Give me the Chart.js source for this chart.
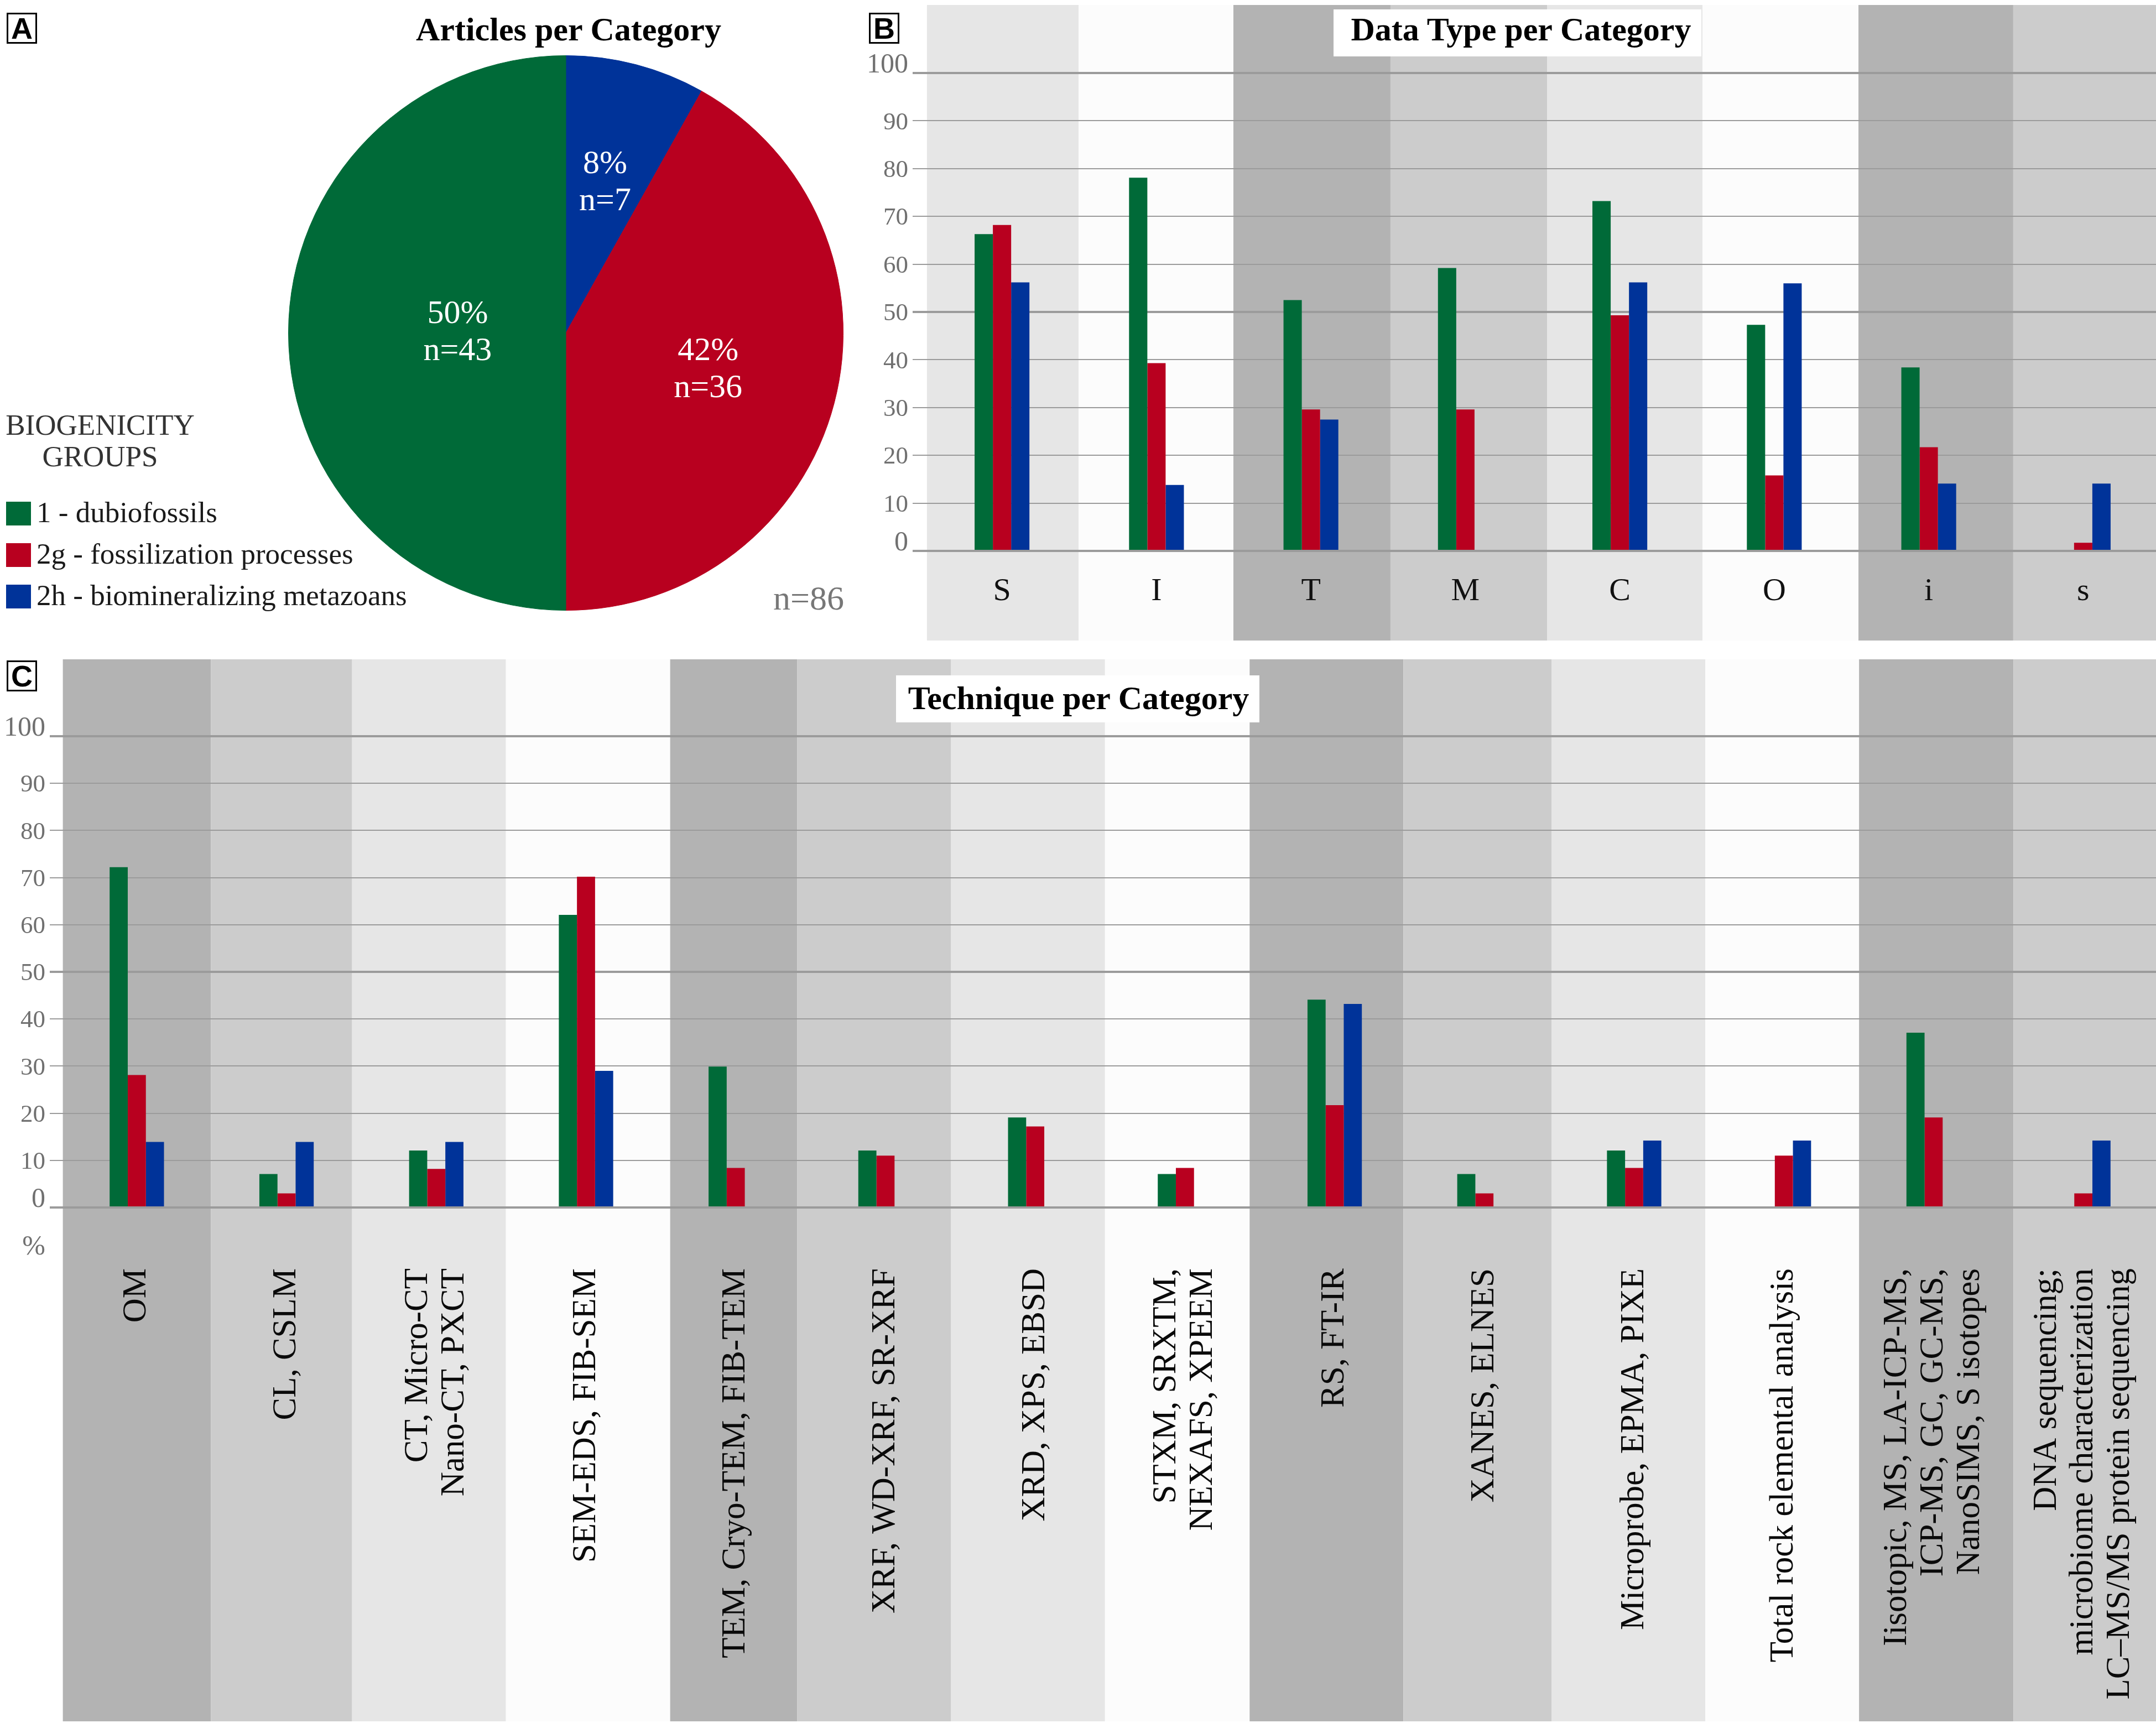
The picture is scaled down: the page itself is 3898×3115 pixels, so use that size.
<!DOCTYPE html>
<html>
<head>
<meta charset="utf-8">
<title>Biogenicity groups – articles, data types and techniques</title>
<script src="https://cdn.jsdelivr.net/npm/chart.js@4.4.1/dist/chart.umd.min.js"></script>
<style>
  html, body { margin:0; padding:0; background:#ffffff; }
  body { width:3898px; height:3115px; overflow:hidden; position:relative; }
  canvas { position:absolute; display:block; }
  .t { position:absolute; white-space:nowrap; }
  .panel { position:absolute; box-sizing:border-box; border:3px solid #000; background:#fff;
           font-family:"Liberation Sans", Arial, sans-serif; font-weight:bold; color:#000;
           display:flex; align-items:center; justify-content:center; line-height:1; }
  .tbox { position:absolute; background:#ffffff; }
  .sw { position:absolute; }
</style>
</head>
<body>
<canvas id="pieA" width="1560" height="1170" style="left:0;top:0;width:1560px;height:1170px"></canvas>
<canvas id="barB" width="2370" height="1170" style="left:1540px;top:0;width:2370px;height:1170px"></canvas>
<canvas id="barC" width="3910" height="1935" style="left:0;top:1180px;width:3910px;height:1935px"></canvas>
<script>
// ---------------- DATA ----------------
const groupNames  = ['1 - dubiofossils', '2g - fossilization processes', '2h - biomineralizing metazoans'];
const groupCounts = [43, 36, 7];
const groupShares = [50, 42, 8];
const totalArticles = 86;

const yTickValues = [0, 10, 20, 30, 40, 50, 60, 70, 80, 90, 100];
const techUnitLabel = '%';

const typeLabels = ['S', 'I', 'T', 'M', 'C', 'O', 'i', 's'];
const typeDubio  = [66.3, 78.1, 52.5, 59.2, 73.2, 47.3, 38.4, 0];
const typeFossil = [68.2, 39.3, 29.6, 29.6, 49.3, 15.8, 21.7, 1.7];
const typeBiomin = [56.2, 13.8, 27.5, 0, 56.2, 56.0, 14.1, 14.1];

const techLabels = [
  ['OM'],
  ['CL, CSLM'],
  ['CT, Micro-CT', 'Nano-CT, PXCT'],
  ['SEM-EDS, FIB-SEM'],
  ['TEM, Cryo-TEM, FIB-TEM'],
  ['XRF, WD-XRF, SR-XRF'],
  ['XRD, XPS, EBSD'],
  ['STXM, SRXTM,', 'NEXAFS, XPEEM'],
  ['RS, FT-IR'],
  ['XANES, ELNES'],
  ['Microprobe, EPMA, PIXE'],
  ['Total rock elemental analysis'],
  ['Iisotopic, MS, LA-ICP-MS,', 'ICP-MS, GC, GC-MS,', 'NanoSIMS, S isotopes'],
  ['DNA sequencing;', 'microbiome characterization', 'LC\u2013MS/MS protein sequencing']
];
const techDubio  = [72.2, 7.1, 12.1, 62.1, 29.9, 12.1, 19.1, 7.1, 44.1, 7.1, 12.1, 0, 37.1, 0];
const techFossil = [28.1, 3.0, 8.2, 70.2, 8.4, 11.0, 17.2, 8.4, 21.7, 3.0, 8.4, 11.0, 19.1, 3.0];
const techBiomin = [13.9, 13.9, 13.9, 29.0, 0, 0, 0, 0, 43.2, 0, 14.2, 14.2, 0, 14.2];

// ---------------- STYLE ----------------
const groupColors = ['#006a38', '#b8001f', '#003399'];
const bandColors  = ['#b3b3b3', '#cccccc', '#e6e6e6', '#fcfcfc'];
const SERIF = '"Liberation Serif", "Times New Roman", serif';
// small decorative nudges of band edges (in category-width units) to follow the hand-made panels
const typeBandNudge = [0.014, -0.004, -0.002, 0.015, 0.029, 0.035, 0.045, 0.047, 0];
const techBandNudge = [0.006, -0.005, -0.062, -0.035, 0.062, -0.089, -0.062, -0.034, -0.068, -0.041, -0.052, -0.025, 0.002, 0.033, 0];

// ---------------- PLUGINS ----------------
const sliceLabelPlugin = {
  id: 'sliceLabels',
  afterDatasetsDraw(chart, args, o) {
    const ctx = chart.ctx;
    const arcs = chart.getDatasetMeta(0).data;
    ctx.save();
    ctx.fillStyle = o.color;
    ctx.font = o.size + 'px ' + SERIF;
    ctx.textAlign = 'center';
    ctx.textBaseline = 'middle';
    arcs.forEach((arc, j) => {
      const p = arc.getProps(['x', 'y', 'startAngle', 'endAngle', 'outerRadius'], true);
      const mid = (p.startAngle + p.endAngle) / 2;
      const r = p.outerRadius * o.radii[j];
      const cx = p.x + r * Math.cos(mid);
      const cy = p.y + r * Math.sin(mid);
      const lines = o.lines[j];
      lines.forEach((ln, k) => {
        ctx.fillText(ln, cx, cy + (k - (lines.length - 1) / 2) * o.gap);
      });
    });
    ctx.restore();
  }
};

const bandPlugin = {
  id: 'bands',
  beforeDraw(chart, args, o) {
    const ctx = chart.ctx, xs = chart.scales.x;
    const n = chart.data.labels.length;
    const w = (xs.right - xs.left) / n;
    const edges = [];
    for (let e = 0; e <= n; e++) {
      const base = e < n ? xs.getPixelForValue(e) - w / 2 : xs.getPixelForValue(n - 1) + w / 2;
      edges.push(base + (o.nudge ? o.nudge[e] * w : 0));
    }
    ctx.save();
    for (let i = 0; i < n; i++) {
      ctx.fillStyle = bandColors[(i + o.start) % bandColors.length];
      ctx.fillRect(edges[i], o.top, edges[i + 1] - edges[i], o.bottom - o.top);
    }
    ctx.restore();
  }
};

const axisTextPlugin = {
  id: 'axisText',
  afterDraw(chart, args, o) {
    const ctx = chart.ctx, xs = chart.scales.x, ys = chart.scales.y;
    ctx.save();
    // y labels
    ctx.fillStyle = o.yColor;
    ctx.textAlign = 'right';
    ctx.textBaseline = 'alphabetic';
    ys.ticks.forEach(t => {
      const y = ys.getPixelForValue(t.value);
      const edge = (t.value === ys.min || t.value === ys.max);
      const fs = edge ? o.yEdgeSize : o.ySize;
      ctx.font = fs + 'px ' + SERIF;
      ctx.fillText(String(t.value), o.yRight, edge ? y - 1 : y + 0.338 * fs);
    });
    if (o.unit) {
      ctx.font = o.yEdgeSize + 'px ' + SERIF;
      ctx.fillText(o.unit, o.yRight, ys.getPixelForValue(ys.min) + o.unitDrop);
    }
    // x labels
    ctx.fillStyle = o.xColor;
    ctx.font = o.xSize + 'px ' + SERIF;
    chart.data.labels.forEach((lab, i) => {
      const lines = Array.isArray(lab) ? lab : [lab];
      const cx = xs.getPixelForValue(i);
      if (o.rotate) {
        lines.forEach((ln, k) => {
          const lx = cx + (k - (lines.length - 1) / 2) * o.lineGap;
          ctx.save();
          ctx.translate(lx, o.xAnchor);
          ctx.rotate(-Math.PI / 2);
          ctx.textAlign = 'right';
          ctx.textBaseline = 'middle';
          ctx.fillText(ln, 0, 0);
          ctx.restore();
        });
      } else {
        ctx.textAlign = 'center';
        ctx.textBaseline = 'alphabetic';
        ctx.fillText(lines[0], cx, o.xAnchor);
      }
    });
    ctx.restore();
  }
};

// ---------------- PIE (A) ----------------
const pieOrder = [2, 1, 0]; // clockwise from 12 o'clock: 2h, 2g, 1
new Chart(document.getElementById('pieA'), {
  type: 'pie',
  data: {
    labels: pieOrder.map(i => groupNames[i]),
    datasets: [{
      data: pieOrder.map(i => groupCounts[i]),
      backgroundColor: pieOrder.map(i => groupColors[i]),
      borderColor: pieOrder.map(i => groupColors[i]),
      borderWidth: 1,
      hoverOffset: 0
    }]
  },
  options: {
    responsive: false, animation: false, devicePixelRatio: 1,
    layout: { padding: { left: 521, top: 100, right: 35, bottom: 66 } },
    plugins: {
      legend: { display: false },
      tooltip: { enabled: false },
      sliceLabels: {
        color: '#ffffff', size: 60, gap: 67,
        radii: [0.56, 0.53, 0.39],
        lines: pieOrder.map(i => [groupShares[i] + '%', 'n=' + groupCounts[i]])
      }
    }
  },
  plugins: [sliceLabelPlugin]
});

// ---------------- BAR CHARTS (B, C) ----------------
function makeBar(id, labels, series, cfg) {
  return new Chart(document.getElementById(id), {
    type: 'bar',
    data: {
      labels: labels,
      datasets: series.map((d, k) => ({
        label: groupNames[k],
        data: d,
        backgroundColor: groupColors[k],
        borderWidth: 0,
        barPercentage: 1,
        categoryPercentage: cfg.catPct
      }))
    },
    options: {
      responsive: false, animation: false, devicePixelRatio: 1,
      layout: { autoPadding: false, padding: { left: 0, right: cfg.padRight, top: cfg.padTop, bottom: 0 } },
      plugins: {
        legend: { display: false },
        tooltip: { enabled: false },
        bands: cfg.bands,
        axisText: cfg.text
      },
      scales: {
        x: {
          offset: true,
          grid: { display: false, drawTicks: false },
          border: { display: false },
          ticks: { display: false },
          afterFit: s => { s.height = cfg.xHeight; }
        },
        y: {
          min: 0, max: 100,
          afterBuildTicks: s => { s.ticks = yTickValues.map(v => ({ value: v })); },
          ticks: { display: false },
          border: { display: false },
          grid: {
            color: '#9b9b9b',
            lineWidth: c => (c.tick && c.tick.value % 50 === 0) ? 4 : 2,
            drawTicks: true,
            tickLength: 22
          },
          afterFit: s => { s.width = cfg.yWidth; }
        }
      }
    },
    plugins: [bandPlugin, axisTextPlugin]
  });
}

makeBar('barB', typeLabels, [typeDubio, typeFossil, typeBiomin], {
  catPct: 0.355, padRight: 4, padTop: 132, xHeight: 174, yWidth: 132,
  bands: { start: 2, top: 9, bottom: 1158, nudge: typeBandNudge },
  text: { yColor: '#707070', ySize: 45, yEdgeSize: 50, yRight: 102,
          xColor: '#111111', xSize: 58, xAnchor: 1085, rotate: false }
});

makeBar('barC', techLabels, [techDubio, techFossil, techBiomin], {
  catPct: 0.363, padRight: 8, padTop: 151, xHeight: 932, yWidth: 112,
  bands: { start: 0, top: 12, bottom: 1932, nudge: techBandNudge },
  text: { yColor: '#707070', ySize: 45, yEdgeSize: 50, yRight: 82,
          unit: techUnitLabel, unitDrop: 85,
          xColor: '#0a0a0a', xSize: 61, xAnchor: 1113, rotate: true, lineGap: 66 }
});

// ---------------- HTML TEXT / LEGEND ----------------
function addText(txt, x, base, size, o) {
  o = o || {};
  const d = document.createElement('div');
  d.className = 't';
  d.textContent = txt;
  const sans = !!o.sans;
  const asc = sans ? 0.8465 : 0.8375;
  d.style.fontFamily = sans ? '"Liberation Sans", Arial, sans-serif' : SERIF;
  d.style.fontSize = size + 'px';
  d.style.lineHeight = size + 'px';
  d.style.top = (base - asc * size) + 'px';
  d.style.color = o.color || '#000';
  d.style.fontWeight = o.bold ? 'bold' : 'normal';
  if (o.align === 'center') { d.style.left = x + 'px'; d.style.transform = 'translateX(-50%)'; }
  else if (o.align === 'right') { d.style.right = (3898 - x) + 'px'; }
  else { d.style.left = x + 'px'; }
  document.body.appendChild(d);
  return d;
}
function addBox(cls, left, top, w, h, bg) {
  const d = document.createElement('div');
  d.className = cls;
  d.style.left = left + 'px'; d.style.top = top + 'px';
  d.style.width = w + 'px'; d.style.height = h + 'px';
  if (bg) d.style.background = bg;
  document.body.appendChild(d);
  return d;
}
function addPanel(letter, left, top) {
  const d = addBox('panel', left, top, 55, 56);
  d.style.fontSize = '54px';
  d.textContent = letter;
}

// panel letters
addPanel('A', 12, 23);
addPanel('B', 1571, 23);
addPanel('C', 12, 1194);

// titles
addText('Articles per Category', 1028, 73, 60, { bold: true, align: 'center' });
addBox('tbox', 2411, 17, 665, 85);
addText('Data Type per Category', 2750, 73, 60, { bold: true, align: 'center' });
addBox('tbox', 1620, 1221, 657, 85);
addText('Technique per Category', 1950, 1282, 60, { bold: true, align: 'center' });

// legend
addText('BIOGENICITY', 181, 786, 53, { align: 'center', color: '#333333' });
addText('GROUPS', 181, 843, 53, { align: 'center', color: '#333333' });
groupNames.forEach((nm, k) => {
  addBox('sw', 11, 907 + 75 * k, 45, 43, groupColors[k]);
  addText(nm, 66, 944 + 75 * k, 53, { color: '#1a1a1a' });
});
addText('n=' + totalArticles, 1526, 1102, 62, { align: 'right', color: '#777777' });
</script>
</body>
</html>
